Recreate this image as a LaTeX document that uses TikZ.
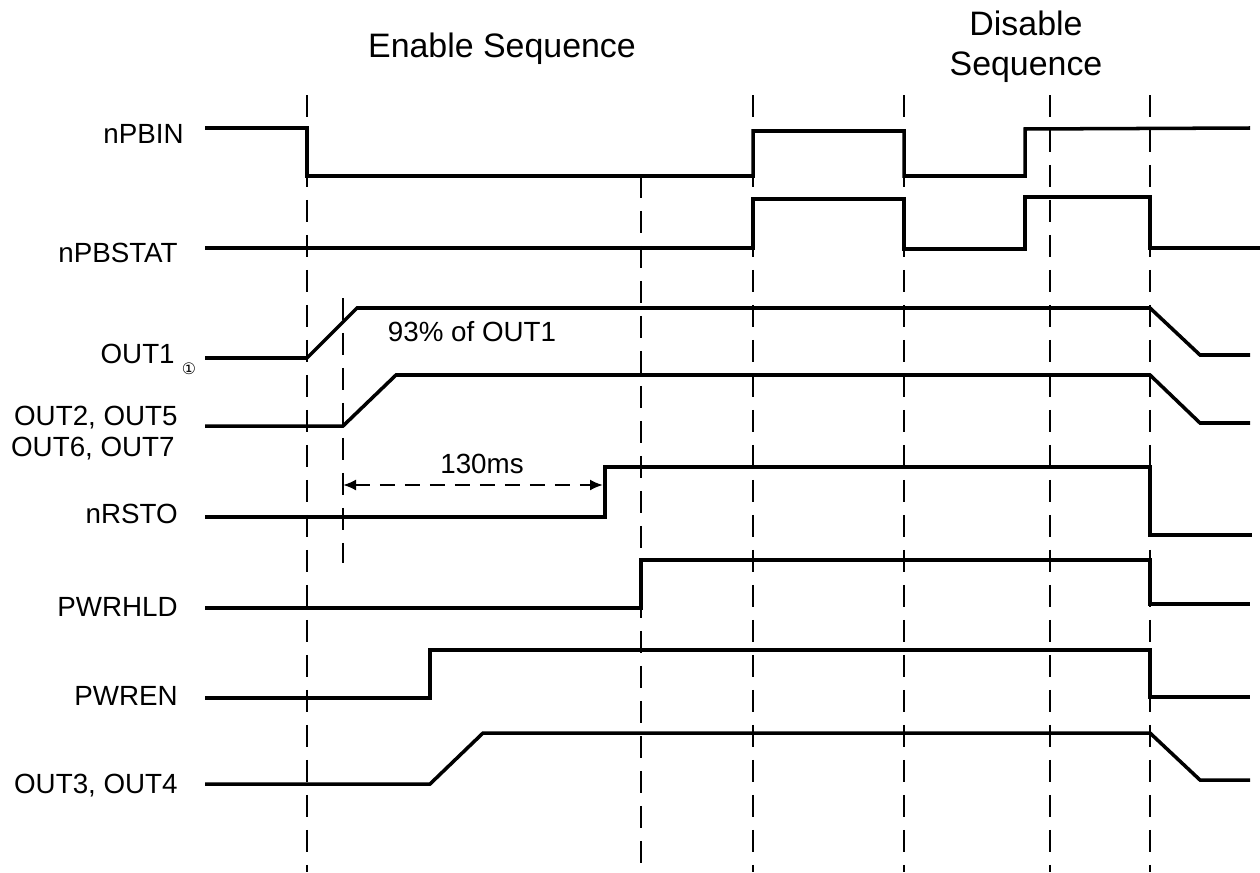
\documentclass[tikz,border=0pt]{standalone}
\usepackage{fontspec}
\setmainfont{Liberation Sans}
\newfontfamily\symfont{DejaVu Sans}
\usetikzlibrary{arrows.meta}

\begin{document}
\begin{tikzpicture}[x=0.02cm,y=-0.02cm,>={Latex[length=2.6mm,width=2.2mm]},
  sig/.style={line width=2pt},
  guide/.style={line width=1.6pt,dash pattern=on 0.44cm off 0.26cm},
  lbl/.style={anchor=base east,inner sep=0pt,font=\fontsize{15.8}{19}\selectfont},
  ttl/.style={anchor=base,inner sep=0pt,font=\fontsize{19.3}{23}\selectfont}]
  \useasboundingbox (0,0) rectangle (1260,872);
  \node[ttl] (en) at (502,57) {Enable Sequence};
  \node[ttl] (dis) at (1026,35) {Disable};
  \node[ttl] (seq) at (1026,75) {Sequence};
  \foreach \x in {307,753,904,1050,1150}{\draw[guide] (\x,95) -- (\x,872);}
  \draw[guide] (641,176) -- (641,872);
  \draw[guide] (343,298) -- (343,563);
  \node[lbl] (lpbin) at (184,143) {nPBIN};
  \node[lbl] (lpbstat) at (178,262) {nPBSTAT};
  \node[lbl] (lout1) at (175,363) {OUT1};
  \node[inner sep=0pt,font=\symfont\fontsize{9}{10}\selectfont] (note) at (189,369) {①};
  \node[lbl] (lout25) at (178,425) {OUT2, OUT5};
  \node[lbl] (lout67) at (175,456) {OUT6, OUT7};
  \node[lbl] (lrsto) at (178,523) {nRSTO};
  \node[lbl] (lhld) at (178,616) {PWRHLD};
  \node[lbl] (len) at (178,705) {PWREN};
  \node[lbl] (lout34) at (178,793) {OUT3, OUT4};
  \draw[sig] (205,128) -- (307,128) -- (307,176) -- (753,176) -- (753,131) -- (904,131) -- (904,176) -- (1025,176) -- (1025,129) -- (1250,128);
  \draw[sig] (205,248) -- (753,248) -- (753,199) -- (904,199) -- (904,249) -- (1025,249) -- (1025,197) -- (1150,197) -- (1150,248) -- (1260,248);
  \draw[sig] (205,358) -- (307,358) -- (357,308) -- (1150,308) -- (1200,355) -- (1250,355);
  \draw[sig] (205,426) -- (343,426) -- (396,375) -- (1150,375) -- (1200,423) -- (1250,423);
  \draw[sig] (205,517) -- (605,517) -- (605,467) -- (1150,467) -- (1150,535) -- (1252,535);
  \draw[sig] (205,608) -- (641,608) -- (641,560) -- (1150,560) -- (1150,604) -- (1250,604);
  \draw[sig] (205,698) -- (430,698) -- (430,650) -- (1150,650) -- (1150,697) -- (1250,697);
  \draw[sig] (205,784) -- (430,784) -- (483,733) -- (1150,733) -- (1200,780) -- (1250,780);
  \node[lbl,anchor=base] (pct) at (472,341) {93\% of OUT1};
  \coordinate (t0) at (343,485);
  \coordinate (t1) at (603,485);
  \draw[<->,line width=1.2pt,dash pattern=on 0.3cm off 0.2cm] (t0) -- (t1);
  \node[lbl,anchor=base] (ms) at (482,473) {130ms};
\end{tikzpicture}
\end{document}
